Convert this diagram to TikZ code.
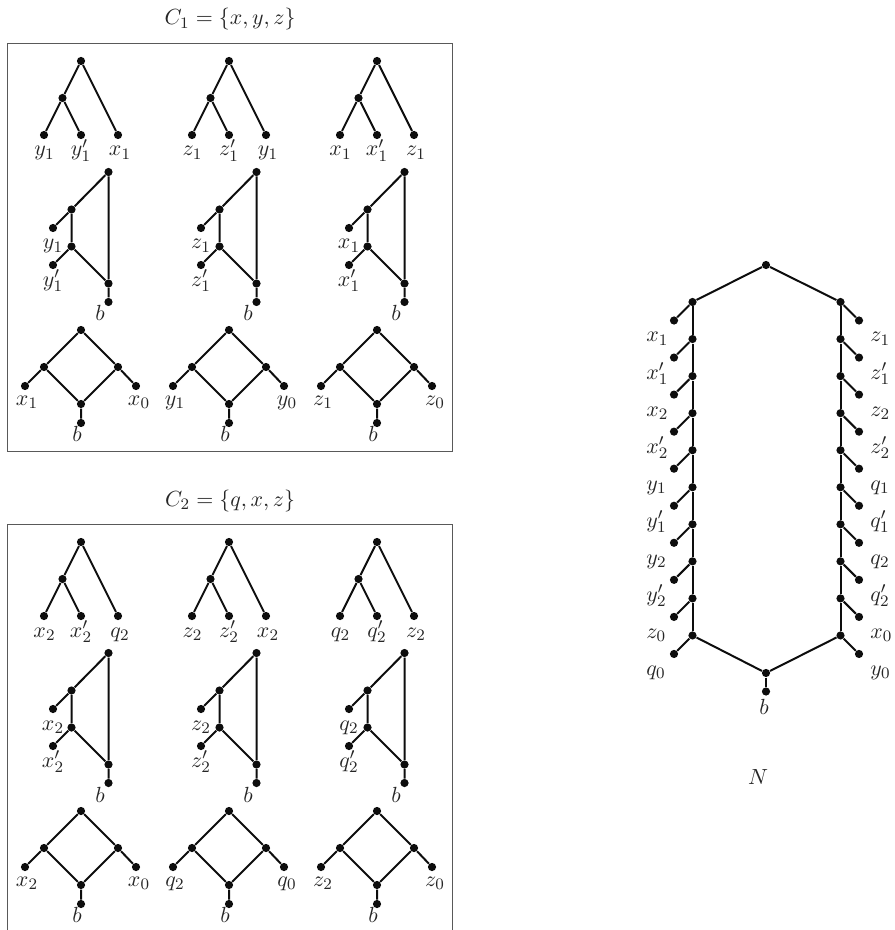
\documentclass[tikz,border=0pt]{standalone}
\tikzset{
  dot/.style={circle,fill=black!95,draw=none,inner sep=0pt,minimum size=4.1pt},
  edge/.style={draw=black!95,line width=1pt},
  frame/.style={draw=black!65,line width=0.55pt},
  lab/.style={inner sep=0pt,anchor=base,text=black!85,font=\fontsize{10.95}{13}\selectfont},
  labw/.style={inner sep=0pt,anchor=base west,text=black!85,font=\fontsize{10.95}{13}\selectfont}
}
% tree gadget: prefix, x, y, three labels
\newcommand{\gadtree}[6]{
  \begin{scope}[shift={(#2,#3)},name prefix=#1-]
    \node[dot] (r) at (0,0) {};
    \node[dot] (m) at (-18.5,37) {};
    \node[dot] (a) at (-37,74) {};
    \node[dot] (b) at (0,74) {};
    \node[dot] (c) at (37,74) {};
    \draw[edge] (r)--(m) (m)--(a) (m)--(b) (r)--(c);
    \node[lab] (la) at (-36.5,95) {$#4$};
    \node[lab] (lb) at (0,95) {$#5$};
    \node[lab] (lc) at (39,95) {$#6$};
  \end{scope}}
% ladder gadget: prefix, x, y, two labels
\newcommand{\gadladder}[5]{
  \begin{scope}[shift={(#2,#3)},name prefix=#1-]
    \node[dot] (t) at (27.5,111) {};
    \node[dot] (u) at (-9.5,148.5) {};
    \node[dot] (p) at (-28,167) {};
    \node[dot] (v) at (-9.5,185.5) {};
    \node[dot] (q) at (-28,204) {};
    \node[dot] (w) at (27.5,222.5) {};
    \node[dot] (z) at (27.5,241) {};
    \draw[edge] (t)--(u) (u)--(p) (u)--(v) (v)--(q) (v)--(w) (t)--(w) (w)--(z);
    \node[lab] (lp) at (-28,188) {$#4$};
    \node[lab] (lq) at (-28,225) {$#5$};
    \node[lab] (lz) at (19,260) {$b$};
  \end{scope}}
% diamond gadget: prefix, x, y, two labels
\newcommand{\gaddiamond}[5]{
  \begin{scope}[shift={(#2,#3)},name prefix=#1-]
    \node[dot] (t) at (0,269) {};
    \node[dot] (l) at (-37,306) {};
    \node[dot] (r) at (37,306) {};
    \node[dot] (s) at (0,343) {};
    \node[dot] (p) at (-56,325) {};
    \node[dot] (q) at (55,325) {};
    \node[dot] (z) at (0,362) {};
    \draw[edge] (t)--(l) (t)--(r) (l)--(s) (r)--(s) (l)--(p) (r)--(q) (s)--(z);
    \node[lab] (lp) at (-54,344) {$#4$};
    \node[lab] (lq) at (58,344) {$#5$};
    \node[lab] (lz) at (-4,380) {$b$};
  \end{scope}}
\begin{document}
\begin{tikzpicture}[x=0.5pt,y=-0.5pt]
\useasboundingbox (0,0) rectangle (894,930);
\path[clip] (0,0) rectangle (894,930);
% panel C1
\node[lab] (t1) at (230,25) {$C_1=\{x,y,z\}$};
\node[frame,draw,inner sep=0pt,minimum width=222.5pt,minimum height=204pt,anchor=north west] (f1) at (7,43) {};
\gadtree{ta}{81}{61}{y_1}{y'_1}{x_1}
\gadtree{tb}{229}{61}{z_1}{z'_1}{y_1}
\gadtree{tc}{377}{61}{x_1}{x'_1}{z_1}
\gadladder{la}{81}{61}{y_1}{y'_1}
\gadladder{lb}{229}{61}{z_1}{z'_1}
\gadladder{lc}{377}{61}{x_1}{x'_1}
\gaddiamond{da}{81}{61}{x_1}{x_0}
\gaddiamond{db}{229}{61}{y_1}{y_0}
\gaddiamond{dc}{377}{61}{z_1}{z_0}
% panel C2
\node[lab] (t2) at (230,506) {$C_2=\{q,x,z\}$};
\node[frame,draw,inner sep=0pt,minimum width=222.5pt,minimum height=204pt,anchor=north west] (f2) at (7,524) {};
\gadtree{ua}{81}{542}{x_2}{x'_2}{q_2}
\gadtree{ub}{229}{542}{z_2}{z'_2}{x_2}
\gadtree{uc}{377}{542}{q_2}{q'_2}{z_2}
\gadladder{ma}{81}{542}{x_2}{x'_2}
\gadladder{mb}{229}{542}{z_2}{z'_2}
\gadladder{mc}{377}{542}{q_2}{q'_2}
\gaddiamond{ea}{81}{542}{x_2}{x_0}
\gaddiamond{eb}{229}{542}{q_2}{q_0}
\gaddiamond{ec}{377}{542}{z_2}{z_0}
% network N
\node[dot] (top) at (766,265) {};
\node[dot] (bot) at (766,673) {};
\node[dot] (bb) at (766,691.5) {};
\draw[edge] (bot)--(bb);
\foreach \i/\ll/\rl in {0/x_1/z_1,1/x'_1/z'_1,2/x_2/z_2,3/x'_2/z'_2,4/y_1/q_1,5/y'_1/q'_1,6/y_2/q_2,7/y'_2/q'_2,8/z_0/x_0,9/q_0/y_0}{
  \pgfmathsetmacro{\yy}{302+37.05*\i}
  \node[dot] (L\i) at (692.5,\yy) {};
  \node[dot] (R\i) at (840.5,\yy) {};
  \node[dot] (LL\i) at (674,\yy+18.5) {};
  \node[dot] (RR\i) at (859,\yy+18.5) {};
  \draw[edge] (L\i)--(LL\i) (R\i)--(RR\i);
  \node[labw] (Lt\i) at (646,\yy+40) {$\ll$};
  \node[labw] (Rt\i) at (870,\yy+40) {$\rl$};
}
\foreach \i [evaluate=\i as \j using int(\i+1)] in {0,...,8}{
  \draw[edge] (L\i)--(L\j) (R\i)--(R\j);
}
\draw[edge] (top)--(L0) (top)--(R0) (L9)--(bot) (R9)--(bot);
\node[lab] (bl) at (764,714) {$b$};
\node[lab] (nl) at (758,784) {$N$};
\end{tikzpicture}
\end{document}
